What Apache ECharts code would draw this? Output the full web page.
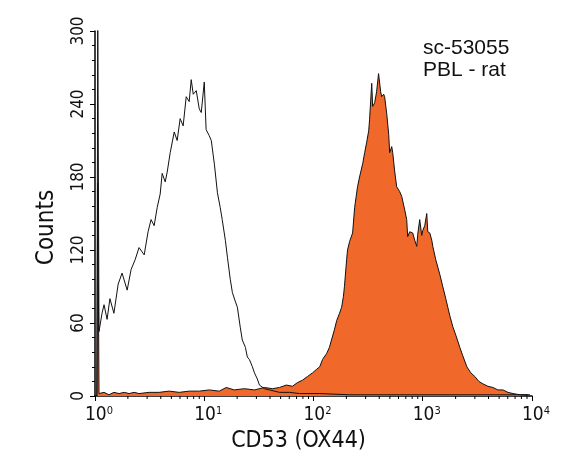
<!DOCTYPE html>
<html>
<head>
<meta charset="UTF-8">
<title>CD53 (OX44)</title>
<style>
html, body { margin: 0; padding: 0; background: #fff; }
#main { width: 569px; height: 475px; }
</style>
</head>
<body>
<div id="main"></div>
<script src="https://cdn.jsdelivr.net/npm/echarts@6/dist/echarts.min.js"></script>
<script>
  // open histogram (control)
  var isoX = [1.04, 1.06, 1.088, 1.16, 1.21, 1.29, 1.37, 1.49, 1.63, 1.77, 1.97, 2.14, 2.33, 2.53, 2.82, 3.06,
    3.26, 3.48, 3.71, 3.95, 4.12, 4.39, 4.58, 4.88, 5.31, 5.65, 6.02, 6.41, 6.84, 7.28, 7.6, 7.93,
    8.45, 9.0, 9.39, 10.0, 10.4, 11.1, 11.6, 12.4, 13.2, 14.0, 14.6, 15.6, 16.3, 17.3, 18.1, 19.2,
    20.1, 21.4, 22.3, 23.8, 24.8, 25.9, 27.6, 28.8, 30.6, 32.0, 35.5, 39.5, 48.8, 60.2, 74.5, 114,
    214, 615, 1769, 5083, 9590];
  var isoY = [0, 310, 53, 68, 75, 63, 80, 68, 92, 101, 87, 104, 112, 122, 116, 135,
    145, 140, 155, 166, 183, 176, 184, 200, 217, 210, 228, 222, 246, 242, 260, 248,
    251, 236, 233, 258, 219, 214, 210, 190, 167, 155, 145, 128, 114, 96, 85, 78,
    73, 56, 46, 40, 32, 30, 24, 19, 14, 9, 6, 5, 3, 3, 2, 2,
    1, 1, 1, 1, 1];

  // filled histogram (sc-53055)
  var cd53X = [1.04, 1.06, 1.088, 1.21, 1.34, 1.49, 1.66, 1.85, 2.05, 2.28, 2.53, 3.13, 3.86, 4.77, 5.9, 7.28,
    9.0, 11.1, 13.7, 15.9, 18.8, 23.3, 28.8, 35.5, 42.1, 48.8, 56.5, 64.1, 71.3, 79.3, 88.1, 97.9,
    107, 114, 121, 132, 140, 146, 156, 163, 173, 181, 188, 192, 201, 205, 214, 228,
    238, 253, 264, 282, 294, 306, 320, 326, 341, 348, 363, 378, 394, 412, 421, 439,
    448, 468, 488, 498, 520, 531, 553, 577, 615, 642, 684, 713, 728, 760, 809, 845,
    881, 900, 938, 979, 1000, 1043, 1088, 1112, 1160, 1210, 1236, 1316, 1373, 1432, 1525, 1625,
    1695, 1769, 1884, 2008, 2184, 2327, 2534, 2757, 3000, 3264, 3551, 3947, 4387, 4876, 5420, 6024,
    6696, 7762, 9191];
  var cd53Y = [0, 175, 2, 3, 1, 3, 2, 3, 2, 3, 2, 3, 3, 4, 3, 4,
    4, 5, 4, 7, 5, 6, 5, 7, 6, 7, 9, 8, 11, 13, 16, 19,
    22, 24, 30, 35, 40, 46, 55, 62, 68, 73, 82, 90, 112, 120, 127, 134,
    155, 172, 180, 191, 200, 208, 218, 227, 257, 238, 241, 250, 265, 250, 246, 248,
    246, 232, 215, 200, 205, 200, 185, 172, 168, 164, 153, 145, 131, 135, 134, 128,
    123, 133, 145, 132, 136, 140, 150, 135, 134, 128, 123, 112, 106, 100, 90, 80,
    73, 66, 57, 50, 40, 33, 24, 19, 16, 12, 10, 8, 7, 5, 5, 3,
    2, 1, 1];

  // minor ticks between decades
  var minorX = [2, 3, 4, 5, 6, 7, 8, 9, 20, 30, 40, 50, 60, 70, 80, 90,
    200, 300, 400, 500, 600, 700, 800, 900, 2000, 3000, 4000, 5000, 6000, 7000, 8000, 9000];

  var noteLines = ['sc-53055', 'PBL - rat'];

  var narrow = '"Liberation Sans Narrow", "DejaVu Sans Condensed", sans-serif';

  function pairs(xs, ys) {
    return xs.map(function (v, i) { return [v, ys[i]]; });
  }

  var myChart = echarts.init(document.getElementById('main'), null, { renderer: 'canvas' });
  var option = {
    animation: false,
    backgroundColor: '#fff',
    grid: { left: 95, right: 37, top: 31, bottom: 79 },
    xAxis: {
      type: 'log',
      logBase: 10,
      min: 1,
      max: 10000,
      name: 'CD53 (OX44)',
      nameLocation: 'middle',
      nameGap: 33,
      nameTextStyle: { fontFamily: narrow, fontSize: 23, color: '#111', padding: [0, 30, 0, 0] },
      splitLine: { show: false },
      axisLine: { lineStyle: { color: '#000', width: 1.5 } },
      axisTick: { length: 5, lineStyle: { color: '#000', width: 1 } },
      axisLabel: {
        margin: 10,
        padding: [0, 0, 0, 8],
        color: '#111',
        fontFamily: narrow,
        fontSize: 19,
        formatter: function (v) {
          return '10{s|' + Math.round(Math.log10(v)) + '}';
        },
        rich: {
          s: { fontFamily: narrow, fontSize: 11, verticalAlign: 'top', color: '#111' }
        }
      }
    },
    yAxis: {
      type: 'value',
      min: 0,
      max: 300,
      interval: 60,
      name: 'Counts',
      nameLocation: 'middle',
      nameGap: 36,
      nameTextStyle: { fontFamily: narrow, fontSize: 24, color: '#111', padding: [0, 28, 0, 0] },
      splitLine: { show: false },
      axisLine: { show: true, lineStyle: { color: '#000', width: 1.5 } },
      axisTick: { length: 5, lineStyle: { color: '#000', width: 1 } },
      minorTick: { show: true, splitNumber: 5, length: 3, lineStyle: { color: '#000', width: 1 } },
      axisLabel: {
        rotate: 90,
        margin: 8,
        color: '#111',
        fontFamily: narrow,
        fontSize: 17
      }
    },
    graphic: [{
      type: 'text',
      left: 423,
      top: 37,
      style: {
        text: noteLines.join('\n'),
        font: '21px "Liberation Sans", Arial, sans-serif',
        lineHeight: 22,
        fill: '#111'
      }
    }],
    series: [{
      name: 'sc-53055',
      type: 'line',
      symbol: 'none',
      data: pairs(cd53X, cd53Y),
      lineStyle: { color: '#111', width: 1 },
      areaStyle: { color: '#f0692b', opacity: 1 },
      z: 2
    }, {
      name: 'control',
      type: 'line',
      symbol: 'none',
      data: pairs(isoX, isoY),
      lineStyle: { color: '#111', width: 1 },
      z: 3
    }, {
      type: 'custom',
      silent: true,
      data: minorX.map(function (v) { return [v, 0]; }),
      renderItem: function (params, api) {
        var p = api.coord([api.value(0), 0]);
        return {
          type: 'line',
          shape: { x1: p[0], y1: p[1], x2: p[0], y2: p[1] + 3 },
          style: { stroke: '#000', lineWidth: 1 }
        };
      },
      z: 4
    }]
  };
  myChart.setOption(option);
</script>
</body>
</html>
